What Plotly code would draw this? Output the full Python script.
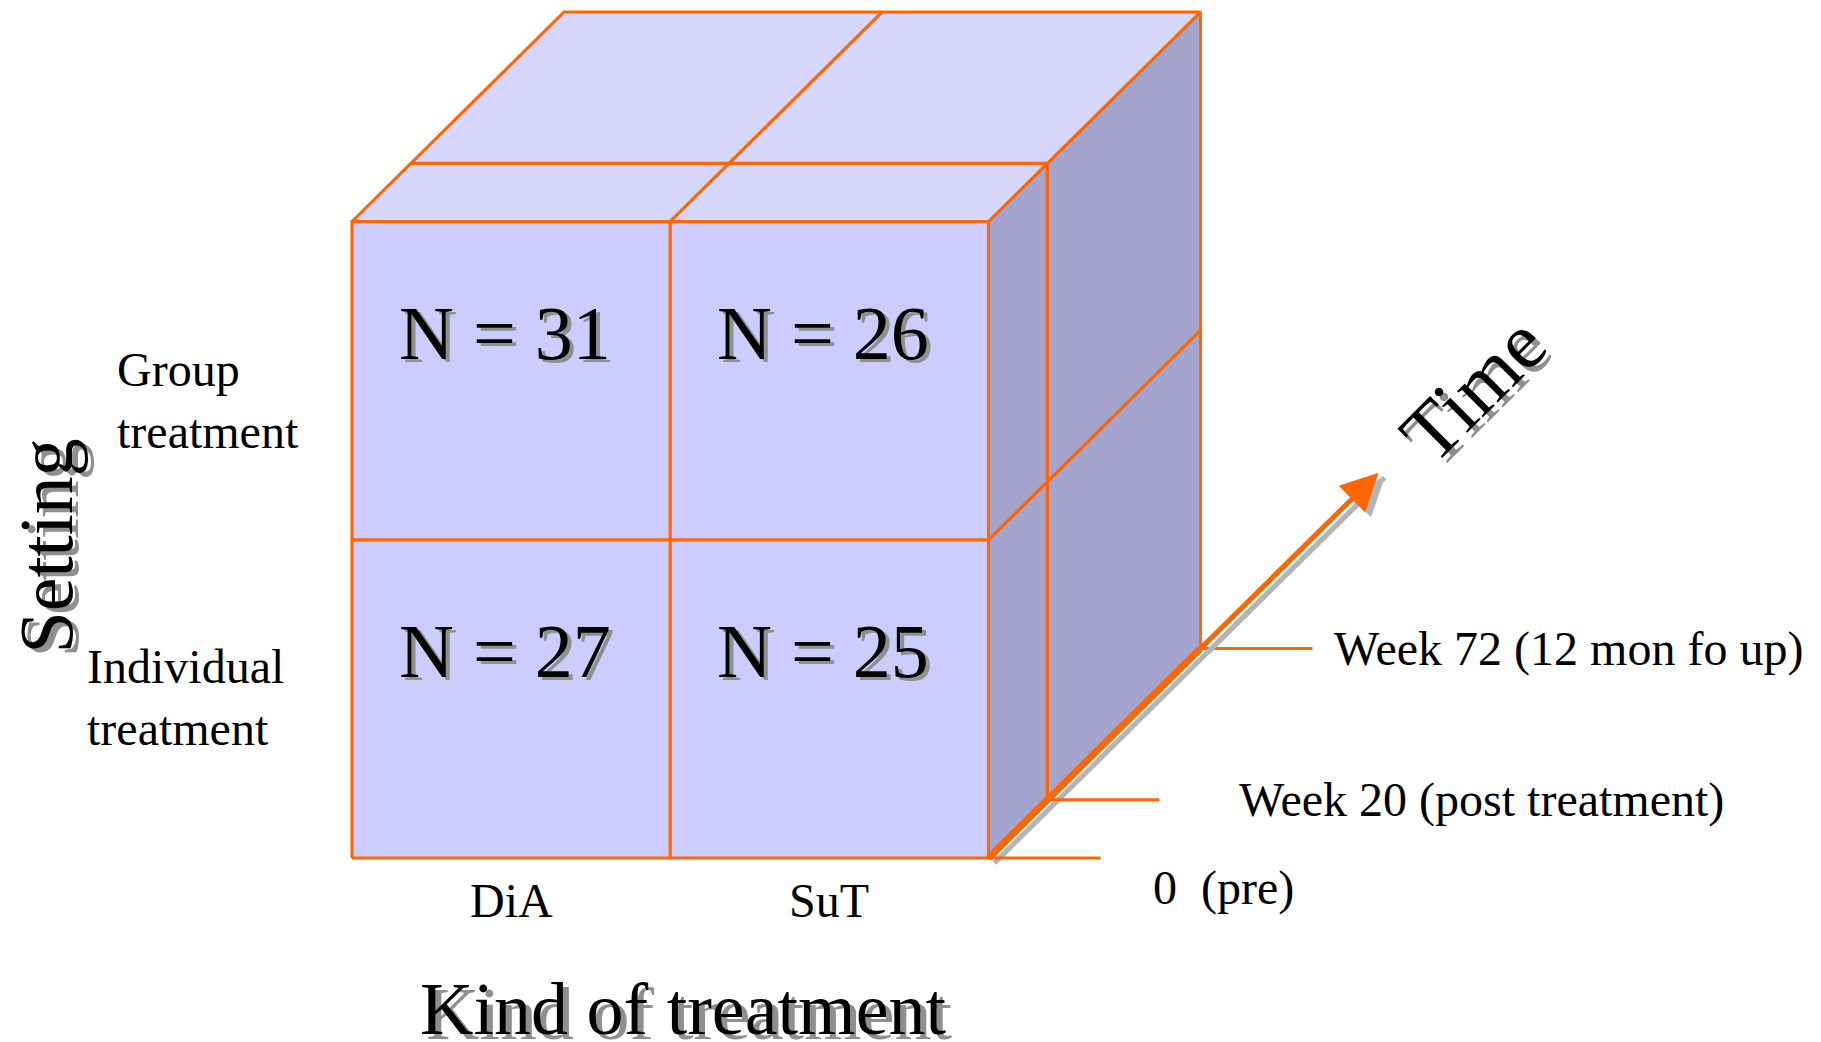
import plotly.graph_objects as go

# ---------------- data ----------------
treatments = ["DiA", "SuT"]                                   # columns (kind of treatment)
settings = ["Individual<br>treatment", "Group<br>treatment"]  # rows, bottom to top
time_points = [0, 20, 72]                                     # weeks (depth)
time_labels = ["0  (pre)", "Week 20 (post treatment)", "Week 72 (12 mon fo up)"]
n_values = [[27, 25],    # Individual: DiA, SuT
            [31, 26]]    # Group:      DiA, SuT
title_x = "Kind of treatment"
title_y = "Setting"
title_z = "Time"

# ---------------- layout / style constants ----------------
W, H = 1821, 1042
PX = 318.25                 # pixels per cell unit
X0_PX, Y0_PX = 352, 858     # pixel position of front-bottom-left corner
KX = 0.666 / 72             # oblique projection of one week (x units)
KY = 0.658 / 72             # oblique projection of one week (y units)
ARROW_END_W = 132.5         # time axis arrow extends to this depth
TICK_LEN = 0.352
ORANGE = "#FF6600"
FRONT = "#CCCCFF"
TOP = "#D7D7FB"
SIDE = "#A4A4CC"
SHADOW = "#8F8F8F"
ARROW_SHADOW = "#B4B4B4"
FONT = "Liberation Serif"
LW = 3

x_lo = -X0_PX / PX
x_hi = x_lo + W / PX
y_lo = -(H - Y0_PX) / PX
y_hi = y_lo + H / PX


def proj(col, row, week):
    return col + week * KX, row + week * KY


fig = go.Figure()


def poly(pts, fill):
    xs, ys = zip(*[proj(*p) for p in pts])
    xs = list(xs) + [xs[0]]
    ys = list(ys) + [ys[0]]
    fig.add_trace(go.Scatter(x=xs, y=ys, mode="lines", fill="toself",
                             fillcolor=fill, line=dict(color=ORANGE, width=LW),
                             hoverinfo="skip", showlegend=False))


ncol = len(treatments)
nrow = len(settings)
wmax = time_points[-1]

# right (side) face: col = ncol, rows x depth segments
for r in range(nrow):
    for i in range(len(time_points) - 1):
        w0, w1 = time_points[i], time_points[i + 1]
        poly([(ncol, r, w0), (ncol, r + 1, w0), (ncol, r + 1, w1), (ncol, r, w1)], SIDE)

# top face: row = nrow, cols x depth segments
for c in range(ncol):
    for i in range(len(time_points) - 1):
        w0, w1 = time_points[i], time_points[i + 1]
        poly([(c, nrow, w0), (c + 1, nrow, w0), (c + 1, nrow, w1), (c, nrow, w1)], TOP)

# front face cells
for r in range(nrow):
    for c in range(ncol):
        poly([(c, r, 0), (c + 1, r, 0), (c + 1, r + 1, 0), (c, r + 1, 0)], FRONT)

# time axis: shadow, thick segment, tick lines
shx, shy = 6 / PX, 5 / PX
x0, y0 = proj(ncol, 0, 0)
xt, yt = proj(ncol, 0, ARROW_END_W)
x72, y72 = proj(ncol, 0, wmax)
fig.add_trace(go.Scatter(x=[x0 + shx, xt + shx], y=[y0 - shy, yt - shy], mode="lines",
                         line=dict(color=ARROW_SHADOW, width=5),
                         hoverinfo="skip", showlegend=False))
for w in time_points:
    tx, ty = proj(ncol, 0, w)
    fig.add_trace(go.Scatter(x=[tx, tx + TICK_LEN], y=[ty, ty], mode="lines",
                             line=dict(color=ORANGE, width=LW),
                             hoverinfo="skip", showlegend=False))
fig.add_trace(go.Scatter(x=[x0, x72], y=[y0, y72], mode="lines",
                         line=dict(color=ORANGE, width=7),
                         hoverinfo="skip", showlegend=False))

annotations = []
# arrow (shadow then orange)
annotations.append(dict(x=xt + shx, y=yt - shy, ax=x72 + shx, ay=y72 - shy, xref="x", yref="y",
                        axref="x", ayref="y", text="", showarrow=True, arrowhead=2,
                        arrowsize=1.5, arrowwidth=5, arrowcolor=ARROW_SHADOW, standoff=0))
annotations.append(dict(x=xt, y=yt, ax=x72, ay=y72, xref="x", yref="y",
                        axref="x", ayref="y", text="", showarrow=True, arrowhead=2,
                        arrowsize=1.5, arrowwidth=5, arrowcolor=ORANGE, standoff=0))


def text(x, y, s, size, shadow=None, **kw):
    if shadow:
        annotations.append(dict(x=x, y=y, text=s, showarrow=False, xref="x", yref="y",
                                font=dict(family=FONT, size=size, color=SHADOW),
                                xshift=kw.get("xshift", 0) + shadow[0],
                                yshift=kw.get("yshift", 0) + shadow[1],
                                **{k: v for k, v in kw.items() if k not in ("xshift", "yshift")}))
    annotations.append(dict(x=x, y=y, text=s, showarrow=False, xref="x", yref="y",
                            font=dict(family=FONT, size=size, color="black"), **kw))


# N labels
for r in range(nrow):
    for c in range(ncol):
        text(c + 0.48, r + 0.65, f"N = {n_values[r][c]}", 76, shadow=(4, -3))

# treatment labels
for c, lab in enumerate(treatments):
    text(c + 0.5, -0.135, lab, 48)

# setting labels
setting_pos = [(-0.84, 0.503), (-0.745, 1.436)]
for (sx, sy), lab in zip(setting_pos, settings):
    text(sx, sy, lab, 48, xanchor="left", align="left")

# time labels
time_label_shift = [(162, -30), (190, 0), (132, 0)]
for w, lab, (dx, dy) in zip(time_points, time_labels, time_label_shift):
    tx, ty = proj(ncol, 0, w)
    text(tx, ty, lab, 48, xanchor="left", xshift=dx, yshift=dy)

# axis titles
text(1.04, -0.475, title_x, 74, shadow=(6, -5))
text(-0.96, 0.98, title_y, 76, shadow=(6, -4), textangle=-90)
text(3.522, 1.474, title_z, 80, shadow=(5, -5), textangle=-45)

fig.update_layout(
    width=W, height=H, margin=dict(l=0, r=0, t=0, b=0),
    paper_bgcolor="white", plot_bgcolor="white",
    xaxis=dict(range=[x_lo, x_hi], visible=False, fixedrange=True),
    yaxis=dict(range=[y_lo, y_hi], visible=False, fixedrange=True),
    showlegend=False, hovermode=False, annotations=annotations,
)

fig.write_html("out.html", config={"displayModeBar": False},
               post_script="document.body.style.margin='0';document.body.style.overflow='hidden';")
